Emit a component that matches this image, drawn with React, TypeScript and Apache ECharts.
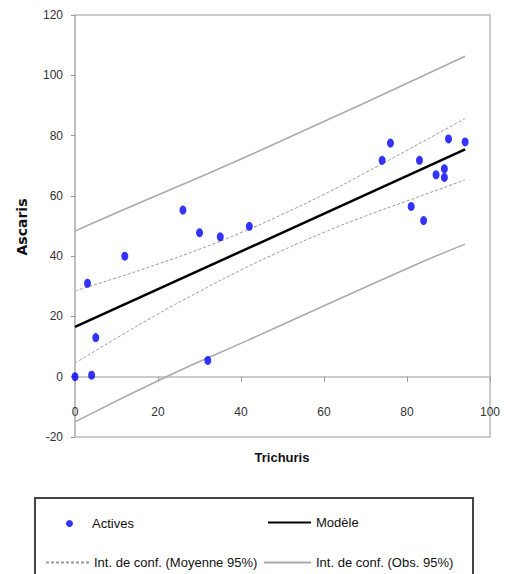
import React, { useEffect, useRef } from "react";
import * as echarts from "echarts";

// Observed points (Trichuris, Ascaris)
const trichuris = [0, 4, 3, 5, 12, 26, 30, 35, 42, 32, 74, 76, 83, 87, 89, 89, 90, 94, 81, 84];
const ascaris = [0, 0.5, 31, 13, 40, 55.3, 47.8, 46.4, 49.9, 5.4, 71.8, 77.5, 71.8, 67, 69, 66.1, 78.9, 77.9, 56.5, 51.8];

// Fitted model
const modelX = [0, 94];
const modelY = [16.5, 75.4];

// Confidence interval of the mean (95%)
const ciX = [0, 10, 20, 30, 40, 50, 60, 70, 80, 94];
const meanUpper = [28.5, 32.8, 37.4, 42.3, 47.8, 53.9, 60.5, 67.7, 75.1, 85.7];
const meanLower = [4.5, 12.8, 20.8, 28.3, 35.4, 41.9, 47.9, 53.3, 58.3, 65.3];

// Confidence interval of observations (95%)
const obsUpperX = [0, 6, 45, 94];
const obsUpper = [48.3, 52, 75.3, 106.3];
const obsLowerX = [0, 22, 42, 81, 94];
const obsLower = [-15, 0, 12.3, 36.5, 44];

const xTicks = [0, 20, 40, 60, 80, 100];
const yTicks = [-20, 0, 20, 40, 60, 80, 100, 120];

const NAME_ACT = "Actives";
const NAME_MOD = "Modèle";
const NAME_MEAN = "Int. de conf. (Moyenne 95%)";
const NAME_OBS = "Int. de conf. (Obs. 95%)";

const FONT = "'Liberation Sans', Arial, sans-serif";

const zip = (xs: number[], ys: number[]) => xs.map((x, i) => [x, ys[i]]);

export default function App() {
  const ref = useRef<HTMLDivElement>(null);
  useEffect(() => {
    if (!ref.current) return;
    const chart = echarts.init(ref.current, null, { renderer: "svg" });
    const meanStyle = { color: "#999", width: 1, type: [3, 2] as any };
    const obsStyle = { color: "#aaa", width: 1.5, type: "solid" as any };
    const legendText = { fontFamily: FONT, fontSize: 13, color: "#111" };
    chart.setOption({
      animation: false,
      backgroundColor: "#fff",
      grid: {
        left: 75,
        top: 15,
        right: 25,
        bottom: 137,
        show: true,
        borderColor: "#bbb",
        borderWidth: 1.5,
        containLabel: false,
      },
      xAxis: [
        {
          type: "value",
          min: xTicks[0],
          max: xTicks[xTicks.length - 1],
          interval: 20,
          axisLine: { onZero: true, lineStyle: { color: "#bbb", width: 1.5 } },
          axisTick: { show: true, length: 5, lineStyle: { color: "#999" } },
          axisLabel: { show: false },
          splitLine: { show: false },
        },
        {
          type: "value",
          position: "bottom",
          min: xTicks[0],
          max: xTicks[xTicks.length - 1],
          interval: 20,
          axisLine: { show: false, onZero: false },
          axisTick: { show: false },
          axisLabel: { inside: true, margin: 19, fontFamily: FONT, fontSize: 12, color: "#333" },
          splitLine: { show: false },
        },
      ],
      yAxis: {
        type: "value",
        min: yTicks[0],
        max: yTicks[yTicks.length - 1],
        interval: 20,
        axisLine: { show: true, onZero: false, lineStyle: { color: "#bbb", width: 1.5 } },
        axisTick: { show: true, length: 4, lineStyle: { color: "#999" } },
        axisLabel: { margin: 12, fontFamily: FONT, fontSize: 12, color: "#333" },
        splitLine: { show: false },
      },
      legend: [
        {
          data: [NAME_ACT],
          left: 61,
          top: 512,
          itemWidth: 7,
          itemHeight: 9,
          textStyle: { ...legendText, padding: [0, 0, 0, 14] },
        },
        {
          data: [NAME_MOD],
          left: 262,
          top: 511,
          itemWidth: 43,
          itemHeight: 14,
          itemStyle: { opacity: 0 },
          textStyle: legendText,
        },
        {
          data: [NAME_MEAN],
          left: 40,
          top: 551,
          itemWidth: 43,
          itemHeight: 14,
          itemStyle: { opacity: 0 },
          textStyle: legendText,
        },
        {
          data: [NAME_OBS],
          left: 258,
          top: 551,
          itemWidth: 47,
          itemHeight: 14,
          itemStyle: { opacity: 0 },
          textStyle: legendText,
        },
      ],
      graphic: [
        {
          type: "text",
          x: 22,
          y: 227,
          rotation: Math.PI / 2,
          style: {
            text: "Ascaris",
            fontFamily: "'DejaVu Sans', sans-serif",
            fontWeight: "bold",
            fontSize: 14,
            fill: "#111",
            align: "center",
            verticalAlign: "middle",
          },
        },
        {
          type: "text",
          x: 282,
          y: 457,
          style: {
            text: "Trichuris",
            fontFamily: FONT,
            fontWeight: "bold",
            fontSize: 13,
            fill: "#111",
            align: "center",
            verticalAlign: "middle",
          },
        },
        {
          type: "rect",
          shape: { x: 35, y: 498, width: 438, height: 100 },
          style: { fill: "none", stroke: "#444", lineWidth: 2 },
          z: -1,
        },
      ],
      series: [
        {
          name: NAME_OBS,
          type: "line",
          data: zip(obsUpperX, obsUpper),
          showSymbol: false,
          symbol: "none",
          smooth: true,
          lineStyle: obsStyle,
          itemStyle: { color: "#aaa" },
        },
        {
          name: NAME_OBS,
          type: "line",
          data: zip(obsLowerX, obsLower),
          showSymbol: false,
          symbol: "none",
          smooth: true,
          lineStyle: obsStyle,
          itemStyle: { color: "#aaa" },
        },
        {
          name: NAME_MEAN,
          type: "line",
          data: zip(ciX, meanUpper),
          showSymbol: false,
          symbol: "none",
          smooth: true,
          lineStyle: meanStyle,
          itemStyle: { color: "#999" },
        },
        {
          name: NAME_MEAN,
          type: "line",
          data: zip(ciX, meanLower),
          showSymbol: false,
          symbol: "none",
          smooth: true,
          lineStyle: meanStyle,
          itemStyle: { color: "#999" },
        },
        {
          name: NAME_MOD,
          type: "line",
          data: zip(modelX, modelY),
          showSymbol: false,
          symbol: "none",
          lineStyle: { color: "#000", width: 2.5 },
          itemStyle: { color: "#000" },
        },
        {
          name: NAME_ACT,
          type: "scatter",
          data: zip(trichuris, ascaris),
          symbol: "circle",
          symbolSize: [7, 9],
          itemStyle: { color: "#0000ff" },
          z: 5,
        },
      ],
    });
    return () => chart.dispose();
  }, []);
  return <div ref={ref} style={{ width: 515, height: 574, position: "absolute", left: 0, top: 0 }} />;
}
